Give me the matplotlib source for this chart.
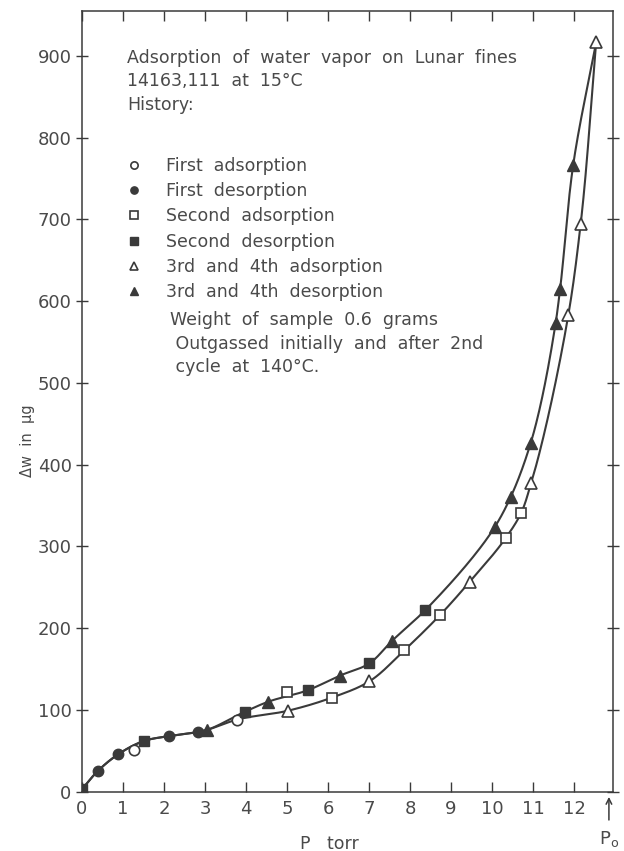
import numpy as np
import matplotlib
matplotlib.use("Agg")
import matplotlib.pyplot as plt

# valeurs (P en torr, dw en microgrammes)
first_ads_x = [1.28, 3.77]
first_ads_y = [51, 88]
first_des_x = [0.38, 0.89, 2.12, 2.82]
first_des_y = [25, 46, 68, 73]
second_ads_x = [4.99, 6.09, 7.86, 8.73, 10.33, 10.71]
second_ads_y = [122, 115, 173, 216, 310, 341]
second_des_x = [0.0, 1.51, 3.98, 5.50, 7.01, 8.37]
second_des_y = [3, 62, 98, 124, 157, 222]
third_ads_x = [5.02, 7.01, 9.46, 10.95, 11.86, 12.16, 12.54]
third_ads_y = [99, 135, 257, 377, 583, 694, 917]
third_des_x = [3.04, 4.54, 6.29, 7.55, 10.07, 10.46, 10.94, 11.55, 11.66, 11.98]
third_des_y = [75.5, 110, 142, 184, 324, 361, 426, 573, 615, 767]

# branche commune (basse pression)
common_x = [0.0, 0.38, 0.89, 1.51, 2.12, 2.82, 3.04]
common_y = [3, 25, 46, 62, 68, 73, 75.5]
# branche desorption
up_x = [3.98, 4.54, 5.50, 6.29, 7.01, 7.55, 8.37, 10.07, 10.46, 10.94, 11.55, 11.66, 11.98, 12.54]
up_y = [98, 110, 124, 142, 157, 184, 222, 324, 361, 426, 573, 615, 767, 917]
# branche adsorption
low_x = [3.77, 5.02, 6.09, 7.01, 7.86, 8.73, 9.46, 10.33, 10.71, 10.95, 11.86, 12.16, 12.54]
low_y = [88, 99, 115, 135, 173, 216, 257, 310, 341, 377, 583, 694, 917]


def lisse(x, y, n=40, alpha=0.5):
    # spline de Catmull-Rom, calculee a l'echelle de l'image
    sx, sy = 41.0, 0.818
    P = np.column_stack([np.asarray(x, float) * sx, np.asarray(y, float) * sy])
    P = np.vstack([2 * P[0] - P[1], P, 2 * P[-1] - P[-2]])
    out = []
    for i in range(1, len(P) - 2):
        p0, p1, p2, p3 = P[i - 1], P[i], P[i + 1], P[i + 2]
        t0 = 0.0
        t1 = t0 + np.linalg.norm(p1 - p0) ** alpha
        t2 = t1 + np.linalg.norm(p2 - p1) ** alpha
        t3 = t2 + np.linalg.norm(p3 - p2) ** alpha
        t = np.linspace(t1, t2, n)[:, None]
        a1 = (t1 - t) / (t1 - t0) * p0 + (t - t0) / (t1 - t0) * p1
        a2 = (t2 - t) / (t2 - t1) * p1 + (t - t1) / (t2 - t1) * p2
        a3 = (t3 - t) / (t3 - t2) * p2 + (t - t2) / (t3 - t2) * p3
        b1 = (t2 - t) / (t2 - t0) * a1 + (t - t0) / (t2 - t0) * a2
        b2 = (t3 - t) / (t3 - t1) * a2 + (t - t1) / (t3 - t1) * a3
        c = (t2 - t) / (t2 - t1) * b1 + (t - t1) / (t2 - t1) * b2
        out.append(c)
    out = np.vstack(out)
    return out[:, 0] / sx, out[:, 1] / sy


encre = '#3a3a3a'
texte = '#4a4a4a'
fs = 12.5

fig = plt.figure(figsize=(6.24, 8.51), dpi=100)
ax = fig.add_axes([0.1314, 0.0697, 0.851, 0.9175])

# traits
xs, ys = lisse(common_x + up_x, common_y + up_y, alpha=0.8)
ax.plot(xs, ys, color=encre, lw=1.5, zorder=2)
xs, ys = lisse(common_x + low_x, common_y + low_y, alpha=0.8)
ax.plot(xs, ys, color=encre, lw=1.5, zorder=2)

# points
ms = 7.5
ax.plot(first_ads_x, first_ads_y, 'o', ms=ms, mfc='white', mec=encre, mew=1.2, ls='none', zorder=3, label='First  adsorption')
ax.plot(first_des_x, first_des_y, 'o', ms=ms, mfc=encre, mec=encre, ls='none', zorder=3, label='First  desorption')
ax.plot(second_ads_x, second_ads_y, 's', ms=ms, mfc='white', mec=encre, mew=1.2, ls='none', zorder=3, label='Second  adsorption')
ax.plot(second_des_x, second_des_y, 's', ms=ms, mfc=encre, mec=encre, ls='none', zorder=3, label='Second  desorption')
ax.plot(third_des_x, third_des_y, '^', ms=ms + 1, mfc=encre, mec=encre, ls='none', zorder=3, label='3rd  and  4th  desorption')
ax.plot(third_ads_x, third_ads_y, '^', ms=ms + 1, mfc='white', mec=encre, mew=1.2, ls='none', zorder=4, label='3rd  and  4th  adsorption')

# legende dans l'ordre de la figure
h, l = ax.get_legend_handles_labels()
ordre = [0, 1, 2, 3, 5, 4]
leg = ax.legend([h[i] for i in ordre], [l[i] for i in ordre], loc='upper left',
                bbox_to_anchor=(0.068, 0.822), frameon=False, fontsize=fs,
                markerscale=0.7, handlelength=1.0, handletextpad=1.35,
                labelspacing=0.42, borderaxespad=0)
for t in leg.get_texts():
    t.set_color(texte)

ax.text(1.1, 909, 'Adsorption  of  water  vapor  on  Lunar  fines\n14163,111  at  15°C\nHistory:',
        fontsize=fs, color=texte, va='top', linespacing=1.4)
ax.text(2.15, 588, 'Weight  of  sample  0.6  grams\n Outgassed  initially  and  after  2nd\n cycle  at  140°C.',
        fontsize=fs, color=texte, va='top', linespacing=1.4)

ax.set_xlim(0, 12.95)
ax.set_ylim(0, 955)
ax.set_xticks(range(0, 13))
ax.set_yticks(range(0, 1000, 100))
ax.tick_params(axis='x', direction='in', length=7, width=1, top=True, labelsize=13,
               labelcolor=texte, color=encre, pad=6)
ax.tick_params(axis='y', direction='inout', length=9, width=1, right=True, labelsize=13,
               labelcolor=texte, color=encre, pad=3)
for s in ax.spines.values():
    s.set_color(encre)
    s.set_linewidth(1.1)

ax.set_ylabel('Δw  in  μg', fontsize=10.5, color=texte)
ax.yaxis.set_label_coords(-0.088, 0.45)
ax.set_xlabel('P   torr', fontsize=12.5, color=texte)
ax.xaxis.set_label_coords(0.465, -0.055)

# fleche P0
ax.annotate('', xy=(12.85, -3), xytext=(12.85, -38), annotation_clip=False,
            arrowprops=dict(arrowstyle='->', color=encre, lw=1.1))
ax.text(12.85, -58, 'P$_\\mathregular{o}$', fontsize=13, color=texte, ha='center', va='center', clip_on=False)

fig.savefig('out.png', dpi=100)
